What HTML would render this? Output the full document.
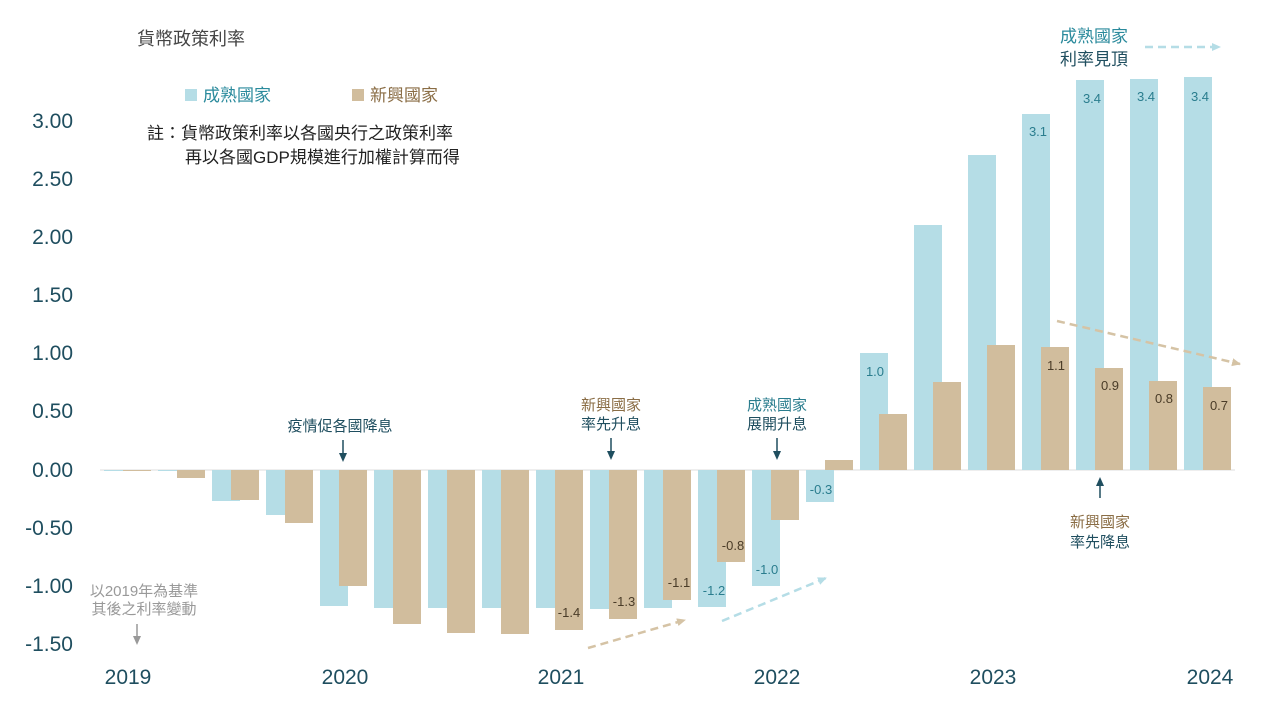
<!DOCTYPE html>
<html><head><meta charset="utf-8"><style>
body{margin:0;background:#fff;}
svg{display:block;font-family:"Liberation Sans","Noto Sans CJK TC",sans-serif;}
</style></head><body>
<svg width="1280" height="720" viewBox="0 0 1280 720">
<defs>
<marker id="at" markerUnits="userSpaceOnUse" markerWidth="10" markerHeight="10" refX="8" refY="5" orient="auto"><path d="M0,1 L9,5 L0,9 Z" fill="#d5c3a5"/></marker>
<marker id="ab" markerUnits="userSpaceOnUse" markerWidth="10" markerHeight="10" refX="8" refY="5" orient="auto"><path d="M0,1 L9,5 L0,9 Z" fill="#b5dde6"/></marker>
<marker id="ad" markerUnits="userSpaceOnUse" markerWidth="10" markerHeight="10" refX="5" refY="5" orient="auto"><path d="M0,1 L9,5 L0,9 Z" fill="#1f4e5f"/></marker>
<marker id="ag" markerUnits="userSpaceOnUse" markerWidth="10" markerHeight="10" refX="5" refY="5" orient="auto"><path d="M0,1 L9,5 L0,9 Z" fill="#999"/></marker>
</defs>
<text x="137" y="45" font-size="18" fill="#444">貨幣政策利率</text>
<rect x="185" y="89" width="12" height="12" fill="#b5dde6"/><text x="203" y="101" font-size="17" fill="#2a8a9c">成熟國家</text>
<rect x="352" y="89" width="12" height="12" fill="#d1bd9d"/><text x="370" y="101" font-size="17" fill="#8a6d45">新興國家</text>
<text x="147" y="139" font-size="17" fill="#222">註：貨幣政策利率以各國央行之政策利率</text>
<text x="185" y="163" font-size="17" fill="#222">再以各國GDP規模進行加權計算而得</text>
<g font-size="21" fill="#1f4e5f" text-anchor="end">
<text x="73" y="128">3.00</text><text x="73" y="186">2.50</text><text x="73" y="244">2.00</text><text x="73" y="302">1.50</text><text x="73" y="360">1.00</text><text x="73" y="418">0.50</text><text x="73" y="477">0.00</text><text x="73" y="535">-0.50</text><text x="73" y="593">-1.00</text><text x="73" y="651">-1.50</text>
</g>
<line x1="100" y1="470" x2="1235" y2="470" stroke="#ddd" stroke-width="1"/>
<g fill="#b5dde6">
<rect x="104" y="470" width="28" height="1"/>
<rect x="158" y="470" width="28" height="1"/>
<rect x="212" y="470" width="28" height="31"/>
<rect x="266" y="470" width="28" height="45"/>
<rect x="320" y="470" width="28" height="136"/>
<rect x="374" y="470" width="28" height="138"/>
<rect x="428" y="470" width="28" height="138"/>
<rect x="482" y="470" width="28" height="138"/>
<rect x="536" y="470" width="28" height="138"/>
<rect x="590" y="470" width="28" height="139"/>
<rect x="644" y="470" width="28" height="138"/>
<rect x="698" y="470" width="28" height="137"/>
<rect x="752" y="470" width="28" height="116"/>
<rect x="806" y="470" width="28" height="32"/>
<rect x="860" y="353" width="28" height="117"/>
<rect x="914" y="225" width="28" height="245"/>
<rect x="968" y="155" width="28" height="315"/>
<rect x="1022" y="114" width="28" height="356"/>
<rect x="1076" y="80" width="28" height="390"/>
<rect x="1130" y="79" width="28" height="391"/>
<rect x="1184" y="77" width="28" height="393"/>
</g>
<g fill="#d1bd9d">
<rect x="123" y="470" width="28" height="1"/>
<rect x="177" y="470" width="28" height="8"/>
<rect x="231" y="470" width="28" height="30"/>
<rect x="285" y="470" width="28" height="53"/>
<rect x="339" y="470" width="28" height="116"/>
<rect x="393" y="470" width="28" height="154"/>
<rect x="447" y="470" width="28" height="163"/>
<rect x="501" y="470" width="28" height="164"/>
<rect x="555" y="470" width="28" height="160"/>
<rect x="609" y="470" width="28" height="149"/>
<rect x="663" y="470" width="28" height="130"/>
<rect x="717" y="470" width="28" height="92"/>
<rect x="771" y="470" width="28" height="50"/>
<rect x="825" y="460" width="28" height="10"/>
<rect x="879" y="414" width="28" height="56"/>
<rect x="933" y="382" width="28" height="88"/>
<rect x="987" y="345" width="28" height="125"/>
<rect x="1041" y="347" width="28" height="123"/>
<rect x="1095" y="368" width="28" height="102"/>
<rect x="1149" y="381" width="28" height="89"/>
<rect x="1203" y="387" width="28" height="83"/>
</g>
<g font-size="13" fill="#2a7d8e" text-anchor="middle">
<text x="714" y="595">-1.2</text><text x="767" y="574">-1.0</text><text x="821" y="494">-0.3</text><text x="875" y="376">1.0</text><text x="1038" y="136">3.1</text><text x="1092" y="103">3.4</text><text x="1146" y="101">3.4</text><text x="1200" y="101">3.4</text>
</g>
<g font-size="13" fill="#4a3c28" text-anchor="middle">
<text x="569" y="617">-1.4</text><text x="624" y="606">-1.3</text><text x="679" y="587">-1.1</text><text x="733" y="550">-0.8</text><text x="1056" y="370">1.1</text><text x="1110" y="390">0.9</text><text x="1164" y="403">0.8</text><text x="1219" y="410">0.7</text>
</g>
<g font-size="21" fill="#1f4e5f" text-anchor="middle">
<text x="128" y="684">2019</text><text x="345" y="684">2020</text><text x="561" y="684">2021</text><text x="777" y="684">2022</text><text x="993" y="684">2023</text><text x="1210" y="684">2024</text>
</g>
<g stroke-width="2.5" stroke-dasharray="8,5" fill="none">
<line x1="588" y1="648" x2="685" y2="620" stroke="#d5c3a5" marker-end="url(#at)"/>
<line x1="722" y1="621" x2="826" y2="578" stroke="#b5dde6" marker-end="url(#ab)"/>
<line x1="1057" y1="321" x2="1240" y2="364" stroke="#d5c3a5" marker-end="url(#at)"/>
<line x1="1145" y1="47" x2="1220" y2="47" stroke="#b5dde6" marker-end="url(#ab)"/>
</g>
<g font-size="15" text-anchor="middle">
<text x="340" y="431" fill="#1f4e5f">疫情促各國降息</text>
<text x="611" y="410" fill="#8a6d45">新興國家</text><text x="611" y="429" fill="#1f4e5f">率先升息</text>
<text x="777" y="410" fill="#2a7d8e">成熟國家</text><text x="777" y="429" fill="#1f4e5f">展開升息</text>
<text x="1100" y="527" fill="#8a6d45">新興國家</text><text x="1100" y="547" fill="#1f4e5f">率先降息</text>
<text x="144" y="596" fill="#999">以2019年為基準</text><text x="144" y="614" fill="#999">其後之利率變動</text>
</g>
<text x="1094" y="42" font-size="17" fill="#2a8a9c" text-anchor="middle">成熟國家</text>
<text x="1094" y="65" font-size="17" fill="#1f4e5f" text-anchor="middle">利率見頂</text>
<g stroke-width="1.5">
<line x1="343" y1="440" x2="343" y2="458" stroke="#1f4e5f" marker-end="url(#ad)"/>
<line x1="611" y1="438" x2="611" y2="456" stroke="#1f4e5f" marker-end="url(#ad)"/>
<line x1="777" y1="438" x2="777" y2="456" stroke="#1f4e5f" marker-end="url(#ad)"/>
<line x1="1100" y1="498" x2="1100" y2="481" stroke="#1f4e5f" marker-end="url(#ad)"/>
<line x1="137" y1="624" x2="137" y2="641" stroke="#999" marker-end="url(#ag)"/>
</g>
</svg>
</body></html>
